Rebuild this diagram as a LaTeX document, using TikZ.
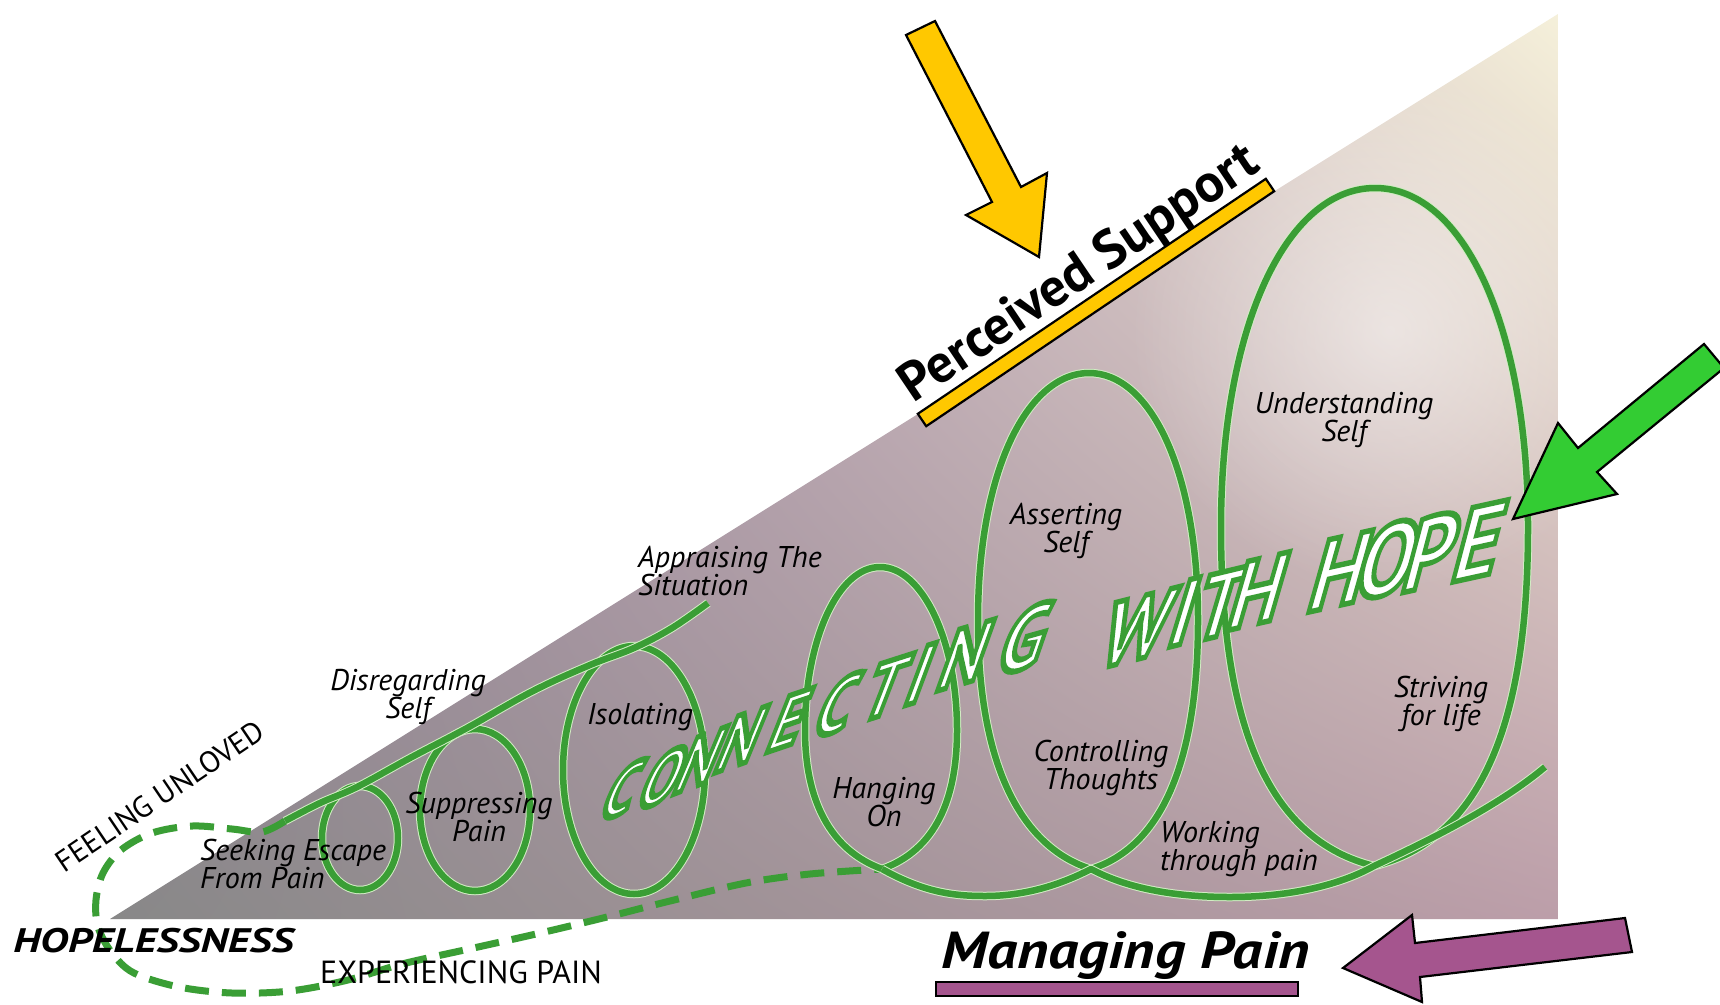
\documentclass[tikz,border=0pt]{standalone}
\usetikzlibrary{shadings,fadings}
\usepackage{fontspec}
\setmainfont{PT Sans}
\newfontfamily\labfont{PT Sans}[UprightFont=* Italic]
\newfontfamily\capfont{PT Sans}
\newfontfamily\bigbi{PT Sans}[UprightFont=* Bold Italic]
\newfontfamily\bigb{PT Sans}[UprightFont=* Bold]
\newfontfamily\cwhfont{PT Sans}[UprightFont=* Bold]
\newcommand\outl[1]{\special{pdf:literal direct 1 1 1 rg 0.227 0.620 0.208 RG 2 Tr 5.5 w}#1\special{pdf:literal direct 0 Tr}}
\definecolor{gmain}{HTML}{3A9E35}
\definecolor{glight}{HTML}{D2ECC4}
\definecolor{ayellow}{HTML}{FFC800}
\definecolor{agreen}{HTML}{33CC33}
\definecolor{apurple}{HTML}{A5558E}
\definecolor{bgLL}{HTML}{888888}
\definecolor{bgLR}{HTML}{BC9EA9}
\definecolor{bgUR}{HTML}{F5F0DA}
\definecolor{bgUL}{HTML}{9E78A8}
\tikzfading[name=glowfade, inner color=transparent!0, outer color=transparent!100]
\tikzset{
  gline/.style={draw=glight, double=gmain, line width=1pt, double distance=6.5pt, line join=round},
  gdash/.style={draw=gmain, line width=7pt, dash pattern=on 24pt off 13pt},
  blockarrow/.style={draw=black, line width=2.2pt, line join=miter},
  lbl/.style={font=\labfont\fontsize{30}{26}\selectfont, align=center, inner sep=0pt, text=black},
  cwh/.style={inner sep=0pt}
}
\begin{document}
\begin{tikzpicture}[x=1pt, y=-1pt]
\useasboundingbox (0,0) rectangle (1720,1004);
\fill[white] (0,0) rectangle (1720,1004);
% background triangle
\coordinate (tA) at (110,919);
\coordinate (tB) at (1558,919);
\coordinate (tC) at (1558,14);
\begin{scope}
  \clip (tA) -- (tB) -- (tC) -- cycle;
  \shade[upper left=bgUL, upper right=bgUR, lower left=bgLL, lower right=bgLR] (110,14) rectangle (1558,919);
  \fill[white, opacity=0.5, path fading=glowfade] (1390,330) circle [radius=260];
\end{scope}
% dashed path
\coordinate (dstart) at (285,821);
\coordinate (pD) at (882,869);
\coordinate (pE) at (1091,869);
\coordinate (pF) at (1374,866);
\coordinate (tailend) at (1545,767);
\coordinate (topend) at (708,603);
\draw[gdash] plot[smooth, tension=0.55] coordinates {(dstart) (262,832) (232,829) (192,826) (152,833) (121,850) (103,873) (96,900) (98,927) (112,953) (134,973) (179,987) (232,993) (290,991) (348,980) (402,964) (469,949) (536,934) (603,918) (670,901) (746,883) (810,874) (pD)};
% small loops
\draw[gline] (360,838) ellipse [x radius=38, y radius=52];
\draw[gline] (475,810) ellipse [x radius=55, y radius=81];
\draw[gline] (634,770) ellipse [x radius=71, y radius=124];
\draw[gline] plot[smooth, tension=0.6] coordinates {(dstart) (320,803) (357,787) (410,758) (467,728) (533,691) (590,665) (634,648) (672,628) (topend)};
% big loops
\draw[gline] (pD) .. controls (935,850) and (957,800) .. (957,730) .. controls (957,640) and (922,567) .. (880,567) .. controls (838,567) and (805,640) .. (805,730) .. controls (805,800) and (830,850) .. (pD);
\draw[gline] (pE) .. controls (1152,850) and (1198,780) .. (1198,620) .. controls (1198,470) and (1150,373) .. (1089,373) .. controls (1028,373) and (978,470) .. (978,620) .. controls (978,780) and (1030,850) .. (pE);
\draw[gline] (pF) .. controls (1478,840) and (1528,730) .. (1528,527) .. controls (1528,330) and (1465,188) .. (1375,188) .. controls (1285,188) and (1221,330) .. (1221,527) .. controls (1221,730) and (1270,840) .. (pF);
\draw[gline] (pD) .. controls (925,893) and (955,896) .. (985,896) .. controls (1025,896) and (1060,885) .. (pE) .. controls (1130,890) and (1180,897) .. (1230,897) .. controls (1290,897) and (1340,885) .. (pF) .. controls (1430,840) and (1500,805) .. (tailend);
% CONNECTING WITH HOPE
\foreach \ch/\cx/\cy/\fs/\ys/\xs [count=\i] in {
  C/623/790/64/0.38/0.5, O/664/777/66/0.38/0.5, N/701/760/68/0.38/0.5, N/742/739/69/0.36/0.48,
  E/790/720/70/0.34/0.46, C/838/705/72/0.33/0.45, T/886/688/74/0.32/0.44, I/921/674/76/0.31/0.42,
  N/966/655/78/0.30/0.4, G/1026/638/84/0.28/0.38, W/1138/628/88/0.25/0.34, I/1185/612/89/0.25/0.33,
  T/1221/604/90/0.24/0.32, H/1259/591/92/0.23/0.31, H/1341/571/97/0.22/0.3, O/1389/559/98/0.22/0.29,
  P/1432/551/99/0.22/0.28, E/1480/541/100/0.22/0.28} {
  \node[cwh, font=\cwhfont\fontsize{\fs}{\fs}\selectfont, yslant=\ys, xslant=\xs, xscale=0.86] (cwh\i) at (\cx,\cy) {\outl{\ch}};
}
% labels
\node[lbl, anchor=west, align=left] (seek) at (200,864) {Seeking Escape\\From Pain};
\node[lbl] (supp) at (479,817) {Suppressing\\Pain};
\node[lbl] (disr) at (408,697) {Disregarding\\Self};
\node[lbl] (isol) at (640,717) {Isolating};
\node[lbl, anchor=west, align=left] (appr) at (638,571) {Appraising The\\Situation};
\node[lbl] (hang) at (884,802) {Hanging\\On};
\node[lbl] (asse) at (1066,531) {Asserting\\Self};
\node[lbl] (cont) at (1101,768) {Controlling\\Thoughts};
\node[lbl, anchor=west, align=left] (work) at (1160,849) {Working\\through pain};
\node[lbl] (unde) at (1344,420) {Understanding\\Self};
\node[lbl] (stri) at (1441,704) {Striving\\for life};
% side texts
\node[inner sep=0pt, anchor=base west, xscale=1.27, font=\bigbi\fontsize{34}{34}\selectfont] (hope) at (13,952) {HOPELESSNESS};
\node[inner sep=0pt, rotate=34, font=\capfont\fontsize{30}{30}\selectfont] (unloved) at (160,796) {FEELING UNLOVED};
\node[inner sep=0pt, anchor=base west, font=\capfont\fontsize{32}{32}\selectfont] (exper) at (320,983) {EXPERIENCING PAIN};
% perceived support
\node[inner sep=0pt, rotate=34, font=\bigb\fontsize{54}{54}\selectfont] (perc) at (1080,275) {Perceived Support};
\draw[blockarrow, fill=ayellow] (917.8,413.8) -- (1265.8,178.8) -- (1274.2,191.2) -- (926.2,426.2) -- cycle;
\draw[blockarrow, fill=ayellow] (906,35) -- (935,21) -- (1021,187) -- (1047,173) -- (1039,257) -- (966,215) -- (992,202) -- cycle;
% connecting with hope arrow
\draw[blockarrow, fill=agreen] (1513,519) -- (1558,423) -- (1578,448) -- (1704,344) -- (1724,368) -- (1597,472) -- (1617,494) -- cycle;
% managing pain
\node[inner sep=0pt, anchor=base west, xscale=1.15, font=\bigbi\fontsize{52}{52}\selectfont] (manag) at (941,968) {Managing Pain};
\draw[blockarrow, fill=apurple] (936,982) rectangle (1298,996);
\draw[blockarrow, fill=apurple] (1343,968) -- (1412,915) -- (1415,943) -- (1625,918) -- (1632,952) -- (1420,977) -- (1422,1002) -- cycle;
\end{tikzpicture}
\end{document}
